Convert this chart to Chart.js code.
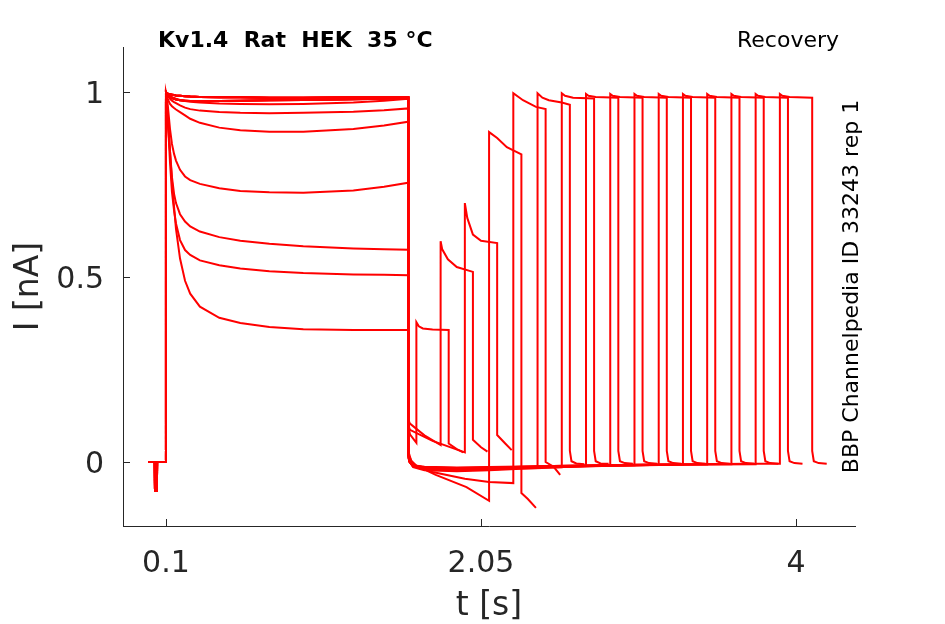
<!DOCTYPE html>
<html><head><meta charset="utf-8">
<script src="https://cdn.jsdelivr.net/npm/chart.js@4.4.0/dist/chart.umd.min.js"></script>
<style>html,body{margin:0;padding:0;background:#fff;}</style>
</head><body>
<canvas id="c" width="945" height="624"></canvas>
<script>
// ---- axis ticks ----
const xTicks = [0.1, 2.05, 4];
const yTicks = [0, 0.5, 1];
const xRange = [-0.166, 4.365];
const yRange = [-0.173, 1.122];

// ---- holding period shared by all sweeps (time s, current nA) ----
const holdT = [-0.01, 0.031, 0.032, 0.044, 0.045, 0.1];
const holdI = [0, 0, -0.077, -0.077, 0, 0];

// ---- conditioning pulse (0.1 s .. 1.6 s): time grid and read-off shapes ----
const p1T = [0.1, 0.105, 0.112, 0.125, 0.137, 0.15, 0.162, 0.187, 0.218, 0.25, 0.31, 0.43, 0.56, 0.74, 0.95, 1.26, 1.45, 1.6];
const shapeA = [1.0, 0.95, 0.91, 0.84, 0.76, 0.69, 0.63, 0.55, 0.49, 0.455, 0.42, 0.39, 0.376, 0.365, 0.359, 0.357, 0.357, 0.357];
const shapeB = [1.0, 0.97, 0.92, 0.81, 0.73, 0.68, 0.645, 0.6, 0.573, 0.56, 0.545, 0.532, 0.523, 0.516, 0.511, 0.507, 0.506, 0.505];
const shapeC = [1.0, 0.98, 0.94, 0.84, 0.77, 0.725, 0.7, 0.67, 0.65, 0.637, 0.623, 0.608, 0.598, 0.59, 0.583, 0.577, 0.575, 0.574];
const shapeD = [1.0, 0.985, 0.96, 0.9, 0.86, 0.833, 0.815, 0.79, 0.772, 0.762, 0.752, 0.74, 0.733, 0.729, 0.728, 0.734, 0.744, 0.755];
const shapeE = [1.0, 0.99, 0.98, 0.968, 0.962, 0.957, 0.953, 0.946, 0.937, 0.928, 0.917, 0.904, 0.897, 0.893, 0.893, 0.9, 0.91, 0.92];
const shapeF = [1.0, 0.995, 0.99, 0.982, 0.977, 0.973, 0.97, 0.964, 0.958, 0.954, 0.95, 0.946, 0.944, 0.943, 0.944, 0.947, 0.951, 0.956];
const shapeG = [1.0, 0.997, 0.994, 0.99, 0.987, 0.984, 0.982, 0.979, 0.976, 0.974, 0.972, 0.969, 0.968, 0.967, 0.968, 0.972, 0.977, 0.982];
const shapeH = [1.0, 0.998, 0.996, 0.994, 0.993, 0.992, 0.991, 0.99, 0.989, 0.988, 0.987, 0.986, 0.986, 0.985, 0.985, 0.986, 0.986, 0.987];
const shapeI = [1.0, 0.996, 0.992, 0.987, 0.984, 0.982, 0.98, 0.978, 0.977, 0.976, 0.976, 0.976, 0.977, 0.978, 0.979, 0.981, 0.982, 0.984];

// which conditioning shape each of the 16 sweeps shows
const sweepShapes = [shapeA, shapeB, shapeC, shapeD, shapeE, shapeF, shapeG, shapeI,
                     shapeH, shapeI, shapeH, shapeI, shapeH, shapeH, shapeI, shapeH];

// ---- recovery interval + test pulse + after-tail for each sweep [t, I] ----
const rec01 = [[1.6,0.1],[1.61,0.075],[1.65,0.052],[1.65,0.378],[1.665,0.367],[1.69,0.361],[1.75,0.358],[1.85,0.357],[1.85,0.05],[1.9,0.035],[1.94,0.026]];
const rec02 = [[1.6,0.115],[1.61,0.104],[1.7,0.072],[1.8,0.046],[1.8,0.597],[1.81,0.575],[1.845,0.548],[1.9,0.527],[2.0,0.514],[2.0,0.06],[2.05,0.04],[2.09,0.028]];
const rec03 = [[1.6,0.1],[1.61,0.087],[1.75,0.057],[1.95,0.026],[1.95,0.70],[1.965,0.66],[2.0,0.615],[2.05,0.598],[2.15,0.592],[2.15,0.073],[2.2,0.05],[2.24,0.032]];
const rec04 = [[1.6,0.02],[1.62,0.003],[1.65,-0.01],[1.77,-0.035],[1.96,-0.068],[2.1,-0.105],[2.1,0.892],[2.15,0.876],[2.21,0.851],[2.3,0.832],[2.3,-0.084],[2.34,-0.1],[2.39,-0.124]];
const rec05 = [[1.6,0.03],[1.62,0.0],[1.66,-0.015],[1.75,-0.027],[1.95,-0.045],[2.1,-0.054],[2.25,-0.057],[2.25,0.997],[2.31,0.978],[2.39,0.96],[2.45,0.954],[2.45,0.0],[2.5,-0.013],[2.54,-0.035]];
const rec06 = [[1.6,0.03],[1.605,0.004],[1.63,-0.012],[1.7,-0.02],[1.9,-0.023],[2.1,-0.02],[2.3,-0.017],[2.4,-0.016],[2.4,0.997],[2.43,0.985],[2.47,0.978],[2.55,0.972],[2.6,0.966],[2.6,0.03],[2.61,0.002],[2.64,-0.004],[2.69,-0.006]];
const rec07 = [[1.6,0.025],[1.605,0.002],[1.63,-0.014],[1.7,-0.022],[1.9,-0.025],[2.1,-0.022],[2.3,-0.018],[2.55,-0.014],[2.55,0.997],[2.57,0.99],[2.62,0.985],[2.75,0.983],[2.75,0.03],[2.76,0.002],[2.79,-0.004],[2.84,-0.005]];
const rec08 = [[1.6,0.03],[1.605,0.003],[1.63,-0.01],[1.7,-0.016],[1.9,-0.018],[2.2,-0.016],[2.5,-0.013],[2.7,-0.011],[2.7,0.995],[2.715,0.99],[2.76,0.987],[2.9,0.985],[2.9,0.03],[2.91,0.002],[2.94,-0.003],[2.99,-0.005]];
const rec09 = [[1.6,0.028],[1.605,0.002],[1.63,-0.011],[1.7,-0.018],[1.9,-0.02],[2.2,-0.017],[2.5,-0.013],[2.85,-0.01],[2.85,0.995],[2.865,0.99],[2.91,0.987],[3.05,0.985],[3.05,0.03],[3.06,0.002],[3.09,-0.003],[3.14,-0.005]];
const rec10 = [[1.6,0.03],[1.605,0.004],[1.63,-0.009],[1.7,-0.015],[1.9,-0.017],[2.2,-0.015],[2.5,-0.012],[2.8,-0.01],[3.0,-0.009],[3.0,0.995],[3.015,0.99],[3.06,0.987],[3.2,0.985],[3.2,0.03],[3.21,0.002],[3.24,-0.003],[3.29,-0.005]];
const rec11 = [[1.6,0.027],[1.605,0.002],[1.63,-0.012],[1.7,-0.019],[1.9,-0.021],[2.2,-0.017],[2.5,-0.014],[2.8,-0.011],[3.15,-0.008],[3.15,0.995],[3.165,0.99],[3.21,0.987],[3.35,0.985],[3.35,0.03],[3.36,0.002],[3.39,-0.003],[3.44,-0.005]];
const rec12 = [[1.6,0.03],[1.605,0.003],[1.63,-0.01],[1.7,-0.014],[1.9,-0.016],[2.2,-0.014],[2.5,-0.011],[2.8,-0.009],[3.1,-0.008],[3.3,-0.007],[3.3,0.995],[3.315,0.99],[3.36,0.987],[3.5,0.985],[3.5,0.03],[3.51,0.002],[3.54,-0.003],[3.59,-0.005]];
const rec13 = [[1.6,0.029],[1.605,0.003],[1.63,-0.011],[1.7,-0.017],[1.9,-0.019],[2.2,-0.016],[2.5,-0.013],[2.8,-0.01],[3.1,-0.008],[3.45,-0.007],[3.45,0.995],[3.465,0.99],[3.51,0.987],[3.65,0.985],[3.65,0.03],[3.66,0.002],[3.69,-0.003],[3.74,-0.005]];
const rec14 = [[1.6,0.03],[1.605,0.004],[1.63,-0.009],[1.7,-0.013],[1.9,-0.015],[2.2,-0.013],[2.5,-0.011],[2.8,-0.009],[3.1,-0.007],[3.4,-0.006],[3.6,-0.006],[3.6,0.995],[3.615,0.99],[3.66,0.987],[3.8,0.985],[3.8,0.03],[3.81,0.002],[3.84,-0.003],[3.89,-0.005]];
const rec15 = [[1.6,0.028],[1.605,0.002],[1.63,-0.012],[1.7,-0.018],[1.9,-0.02],[2.2,-0.016],[2.5,-0.012],[2.8,-0.01],[3.1,-0.008],[3.4,-0.007],[3.75,-0.006],[3.75,0.995],[3.765,0.99],[3.81,0.987],[3.95,0.985],[3.95,0.03],[3.96,0.002],[3.99,-0.003],[4.04,-0.005]];
const rec16 = [[1.6,0.03],[1.605,0.003],[1.63,-0.01],[1.7,-0.015],[1.9,-0.017],[2.2,-0.014],[2.5,-0.011],[2.8,-0.009],[3.1,-0.007],[3.4,-0.006],[3.7,-0.005],[3.9,-0.005],[3.9,0.995],[3.915,0.99],[3.96,0.987],[4.1,0.985],[4.1,0.03],[4.11,0.002],[4.14,-0.003],[4.19,-0.005]];
const recoveries = [rec01, rec02, rec03, rec04, rec05, rec06, rec07, rec08, rec09, rec10, rec11, rec12, rec13, rec14, rec15, rec16];

// ---- build datasets ----
const datasets = recoveries.map((rec, k) => {
  const pts = [];
  holdT.forEach((t, i) => pts.push({x: t, y: holdI[i]}));
  p1T.forEach((t, i) => pts.push({x: t, y: sweepShapes[k][i]}));
  rec.forEach(p => pts.push({x: p[0], y: p[1]}));
  return {label: 'sweep ' + (k + 1), data: pts, borderColor: '#ff0000', borderWidth: 2,
          pointRadius: 0, tension: 0, fill: false};
});

const FONT = 'DejaVu Sans';
const AXC = '#262626';

const overlay = {
  id: 'overlay',
  afterDraw(chart) {
    const {ctx, chartArea: a, scales: {x, y}} = chart;
    ctx.save();
    // inward tick marks
    ctx.strokeStyle = AXC; ctx.lineWidth = 1;
    ctx.beginPath();
    xTicks.forEach(v => { const px = Math.round(x.getPixelForValue(v)) + 0.5; ctx.moveTo(px, a.bottom); ctx.lineTo(px, a.bottom - 7); });
    yTicks.forEach(v => { const py = Math.round(y.getPixelForValue(v)) + 0.5; ctx.moveTo(a.left, py); ctx.lineTo(a.left + 7, py); });
    ctx.stroke();
    // titles
    ctx.fillStyle = '#000';
    ctx.textBaseline = 'alphabetic';
    ctx.font = 'bold 22px "' + FONT + '"';
    ctx.textAlign = 'left';
    ctx.fillText('Kv1.4  Rat  HEK  35 \u00b0C', 158, 47);
    ctx.font = '22px "' + FONT + '"';
    ctx.textAlign = 'right';
    ctx.fillText('Recovery', 839, 47);
    // vertical source label
    ctx.translate(858, (a.top + a.bottom) / 2);
    ctx.rotate(-Math.PI / 2);
    ctx.textAlign = 'center';
    ctx.fillText('BBP Channelpedia ID 33243 rep 1', 0, 0);
    ctx.restore();
  }
};

new Chart(document.getElementById('c'), {
  type: 'line',
  data: {datasets},
  options: {
    responsive: false, animation: false, devicePixelRatio: 1,
    layout: {padding: {top: 47, right: 90, left: 0, bottom: 0}},
    plugins: {legend: {display: false}, tooltip: {enabled: false}},
    scales: {
      x: {
        type: 'linear', min: xRange[0], max: xRange[1],
        afterBuildTicks: s => { s.ticks = xTicks.map(v => ({value: v})); },
        afterFit: s => { s.height = 98; },
        grid: {display: false, drawTicks: false},
        border: {display: true, color: AXC, width: 1},
        ticks: {color: AXC, font: {family: FONT, size: 30}, padding: 20, maxRotation: 0, autoSkip: false, callback: v => String(v)},
        title: {display: true, text: 't [s]', color: AXC, font: {family: FONT, size: 33}, padding: {top: 0, bottom: -2}}
      },
      y: {
        type: 'linear', min: yRange[0], max: yRange[1],
        afterBuildTicks: s => { s.ticks = yTicks.map(v => ({value: v})); },
        afterFit: s => { s.width = 123; },
        grid: {display: false, drawTicks: false},
        border: {display: true, color: AXC, width: 1},
        ticks: {color: AXC, font: {family: FONT, size: 30}, padding: 19, labelOffset: 3, autoSkip: false, callback: v => String(v)},
        title: {display: true, text: 'I [nA]', color: AXC, font: {family: FONT, size: 33}, padding: {top: 10, bottom: 0}}
      }
    }
  },
  plugins: [overlay]
});
</script>
</body></html>
